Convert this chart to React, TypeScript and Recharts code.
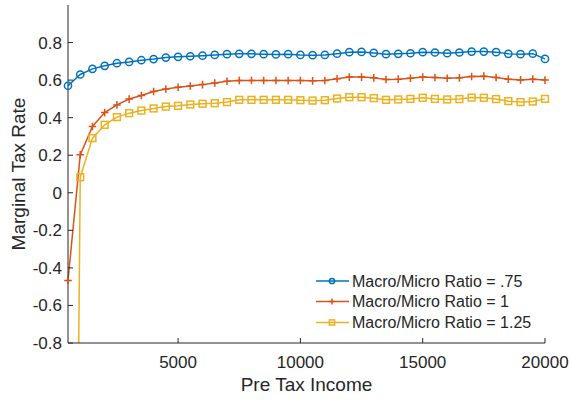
import React from 'react';
import { LineChart, Line, XAxis, YAxis, Legend } from 'recharts';

const incomes = [
  500, 1000, 1500, 2000, 2500, 3000, 3500, 4000, 4500, 5000,
  5500, 6000, 6500, 7000, 7500, 8000, 8500, 9000, 9500, 10000,
  10500, 11000, 11500, 12000, 12500, 13000, 13500, 14000, 14500, 15000,
  15500, 16000, 16500, 17000, 17500, 18000, 18500, 19000, 19500, 20000,
];

const ratio075 = [
  0.57, 0.63, 0.66, 0.676, 0.69, 0.697, 0.706, 0.712, 0.72, 0.724,
  0.727, 0.73, 0.734, 0.738, 0.74, 0.74, 0.738, 0.737, 0.738, 0.734,
  0.733, 0.734, 0.741, 0.749, 0.75, 0.745, 0.738, 0.74, 0.743, 0.749,
  0.747, 0.743, 0.747, 0.752, 0.752, 0.749, 0.74, 0.738, 0.741, 0.713,
];

const ratio100 = [
  -0.467, 0.202, 0.353, 0.427, 0.468, 0.499, 0.518, 0.539, 0.553, 0.562,
  0.569, 0.576, 0.585, 0.594, 0.598, 0.598, 0.598, 0.598, 0.598, 0.598,
  0.596, 0.598, 0.607, 0.616, 0.616, 0.612, 0.603, 0.605, 0.61, 0.616,
  0.614, 0.61, 0.612, 0.619, 0.621, 0.614, 0.605, 0.601, 0.605, 0.6,
];

const ratio125 = [
  -7.1, 0.083, 0.291, 0.362, 0.403, 0.424, 0.438, 0.449, 0.459, 0.463,
  0.47, 0.474, 0.477, 0.483, 0.495, 0.495, 0.495, 0.495, 0.495, 0.493,
  0.491, 0.493, 0.502, 0.509, 0.509, 0.504, 0.495, 0.497, 0.5, 0.506,
  0.5, 0.497, 0.499, 0.507, 0.506, 0.499, 0.488, 0.483, 0.486, 0.5,
];

const xTicks = [5000, 10000, 15000, 20000];
const yTicks = [-0.8, -0.6, -0.4, -0.2, 0, 0.2, 0.4, 0.6, 0.8];
const yDomain = [-0.8, 1];
const seriesNames = [
  'Macro/Micro Ratio = .75',
  'Macro/Micro Ratio = 1',
  'Macro/Micro Ratio = 1.25',
];

const BLUE = '#0072BD';
const RED = '#D95319';
const YELLOW = '#EDB120';
const AXIS = '#262626';
const FONT = '"Liberation Sans", Arial, Helvetica, sans-serif';

const data = incomes.map((inc, i) => ({
  income: inc,
  r075: ratio075[i],
  r100: ratio100[i],
  r125: ratio125[i],
}));

// markers of the 1.25 series that fall inside the visible value range
const visibleR125 = (d: any) => (d.r125 >= yDomain[0] && d.r125 <= yDomain[1] ? d.r125 : null);

const circleMark = (cx: number, cy: number, r: number, key?: any) => (
  <circle key={key} cx={cx} cy={cy} r={r} fill="none" stroke={BLUE} strokeWidth={1.5} />
);
const plusMark = (cx: number, cy: number, s: number, key?: any) => (
  <path
    key={key}
    d={`M${cx - s},${cy}H${cx + s}M${cx},${cy - s}V${cy + s}`}
    stroke={RED}
    strokeWidth={1.5}
    fill="none"
  />
);
const squareMark = (cx: number, cy: number, s: number, key?: any) => (
  <rect
    key={key}
    x={cx - s}
    y={cy - s}
    width={2 * s}
    height={2 * s}
    fill="none"
    stroke={YELLOW}
    strokeWidth={1.5}
  />
);

const CircleDot = (p: any) =>
  p.cx == null || p.cy == null || p.value == null ? <g key={p.index} /> : circleMark(p.cx, p.cy, 3.6, p.index);
const PlusDot = (p: any) =>
  p.cx == null || p.cy == null || p.value == null ? <g key={p.index} /> : plusMark(p.cx, p.cy, 3.8, p.index);
const SquareDot = (p: any) =>
  p.cx == null || p.cy == null || p.value == null ? <g key={p.index} /> : squareMark(p.cx, p.cy, 3.4, p.index);

const XLabel = (props: any) => {
  const vb = props.viewBox || {};
  const cx = (vb.x || 0) + (vb.width || 0) / 2;
  return (
    <text x={cx} y={391} textAnchor="middle" fill={AXIS} fontSize={19} fontFamily={FONT}>
      Pre Tax Income
    </text>
  );
};

const YLabel = (props: any) => {
  const vb = props.viewBox || {};
  const cy = (vb.y || 0) + (vb.height || 0) / 2;
  return (
    <text
      x={25}
      y={cy}
      transform={`rotate(-90, 25, ${cy})`}
      textAnchor="middle"
      fill={AXIS}
      fontSize={19}
      fontFamily={FONT}
    >
      Marginal Tax Rate
    </text>
  );
};

const renderLegend = () => {
  const rows = [13, 33.5, 54.5];
  const marks = [
    (y: number) => circleMark(22, y, 2.6),
    (y: number) => plusMark(22, y, 3),
    (y: number) => squareMark(22, y, 2.6),
  ];
  const colors = [BLUE, RED, YELLOW];
  return (
    <svg width={240} height={70} style={{ display: 'block' }}>
      {seriesNames.map((name, i) => (
        <g key={name}>
          <line x1={6} x2={39} y1={rows[i]} y2={rows[i]} stroke={colors[i]} strokeWidth={1.5} />
          {marks[i](rows[i])}
          <text x={42} y={rows[i] + 5.8} fill={AXIS} fontSize={16} fontFamily={FONT}>
            {name}
          </text>
        </g>
      ))}
    </svg>
  );
};

const tickStyle = { fill: AXIS, fontSize: 17, fontFamily: FONT };

export default function App() {
  return (
    <div style={{ position: 'absolute', left: 0, top: 0, width: 570, height: 400, background: '#fff' }}>
      <LineChart
        width={570}
        height={400}
        data={data}
        margin={{ top: 5, right: 25, bottom: 0, left: 0 }}
      >
        <XAxis
          dataKey="income"
          type="number"
          domain={[500, 20000]}
          ticks={xTicks}
          height={57}
          tickSize={-5}
          tickMargin={18}
          stroke={AXIS}
          tick={tickStyle}
          interval={0}
          label={{ content: XLabel }}
        />
        <YAxis
          yAxisId="main"
          type="number"
          domain={yDomain}
          ticks={yTicks}
          width={68}
          tickSize={-5}
          tickMargin={11}
          stroke={AXIS}
          tick={tickStyle}
          interval={0}
          tickFormatter={(v: number) => (v === 0 ? '0' : v.toFixed(1))}
          label={{ content: YLabel }}
        />
        <YAxis
          yAxisId="clip"
          hide
          orientation="right"
          width={0}
          type="number"
          domain={yDomain}
          allowDataOverflow
        />
        <Legend
          layout="vertical"
          align="center"
          verticalAlign="middle"
          content={renderLegend}
          wrapperStyle={{ position: 'absolute', left: 310, top: 268, width: 240, height: 70 }}
        />
        <Line
          yAxisId="main"
          dataKey="r075"
          name={seriesNames[0]}
          stroke={BLUE}
          strokeWidth={1.5}
          dot={CircleDot}
          activeDot={false}
          isAnimationActive={false}
        />
        <Line
          yAxisId="main"
          dataKey="r100"
          name={seriesNames[1]}
          stroke={RED}
          strokeWidth={1.5}
          dot={PlusDot}
          activeDot={false}
          isAnimationActive={false}
        />
        <Line
          yAxisId="clip"
          dataKey="r125"
          name={seriesNames[2]}
          stroke={YELLOW}
          strokeWidth={1.5}
          dot={false}
          activeDot={false}
          isAnimationActive={false}
        />
        <Line
          yAxisId="main"
          dataKey={visibleR125}
          name="markers"
          stroke="none"
          dot={SquareDot}
          activeDot={false}
          legendType="none"
          isAnimationActive={false}
        />
      </LineChart>
    </div>
  );
}
